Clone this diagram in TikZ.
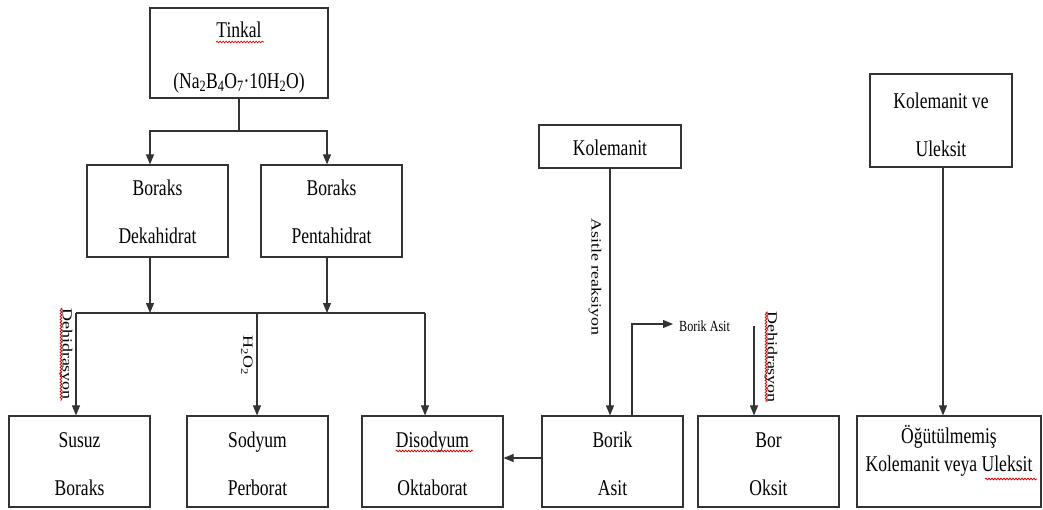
\documentclass[tikz,border=0pt]{standalone}
\usepackage{fontspec}
\setmainfont{Liberation Serif}
\usepackage{graphicx}
\usetikzlibrary{arrows.meta,decorations.pathmorphing}
\newcommand\sqx[1]{\scalebox{0.78}[1]{#1}}
\newcommand\sqy[1]{\scalebox{1}[0.78]{#1}}
\begin{document}
\begin{tikzpicture}[x=1pt,y=-1pt,
  box/.style={draw=black!80, line width=1.2pt, inner sep=0pt},
  conn/.style={draw=black!80, line width=1.1pt},
  arr/.style={conn, -{Triangle[length=10pt,width=8pt]}},
  txt/.style={anchor=base, inner sep=0pt, font=\fontsize{22.5}{26}\selectfont},
  small/.style={anchor=base west, inner sep=0pt, font=\fontsize{15.5}{18}\selectfont},
  vlab/.style={rotate=-90, inner sep=0pt, font=\fontsize{18}{20}\selectfont},
  wavy/.style={draw=red!85!black, line width=0.8pt, decorate, decoration={snake, segment length=3pt, amplitude=0.8pt}}]
\useasboundingbox (0,0) rectangle (1043,509);
\fill[white] (0,0) rectangle (1043,509);
% boxes
\newcommand\mkbox[5]{\node[box, minimum width=#4-#2, minimum height=#5-#3] (#1) at ({(#2+#4)/2},{(#3+#5)/2}) {};}
\mkbox{tinkal}{150}{8}{328}{98}
\mkbox{bdeka}{87}{165}{228}{257}
\mkbox{bpenta}{261}{165}{402}{257}
\mkbox{susuz}{9}{416}{150}{507}
\mkbox{sodyum}{187}{416}{328}{507}
\mkbox{disod}{362}{416}{503}{507}
\mkbox{borik}{542}{416}{683}{507}
\mkbox{boroks}{698}{416}{839}{507}
\mkbox{kolem}{539}{125}{681}{168}
\mkbox{kolul}{870}{74}{1012}{167}
\mkbox{ogut}{857}{416}{1041}{507}
% texts
\node[txt] (t1) at (239,37) {\sqx{Tinkal}};
\node[txt] (t2) at (239,88) {\sqx{(Na\textsubscript{2}B\textsubscript{4}O\textsubscript{7}·10H\textsubscript{2}O)}};
\node[txt] (t3) at (157.5,195) {\sqx{Boraks}};
\node[txt] (t4) at (157.5,243) {\sqx{Dekahidrat}};
\node[txt] (t5) at (331.5,195) {\sqx{Boraks}};
\node[txt] (t6) at (331.5,243) {\sqx{Pentahidrat}};
\node[txt] (t7) at (79.5,447) {\sqx{Susuz}};
\node[txt] (t8) at (79.5,495) {\sqx{Boraks}};
\node[txt] (t9) at (257.5,447) {\sqx{Sodyum}};
\node[txt] (t10) at (257.5,495) {\sqx{Perborat}};
\node[txt] (t11) at (432.5,447) {\sqx{Disodyum}};
\node[txt] (t12) at (432.5,495) {\sqx{Oktaborat}};
\node[txt] (t13) at (612.5,447) {\sqx{Borik}};
\node[txt] (t14) at (612.5,495) {\sqx{Asit}};
\node[txt] (t15) at (768.5,447) {\sqx{Bor}};
\node[txt] (t16) at (768.5,495) {\sqx{Oksit}};
\node[txt] (t17) at (610,155) {\sqx{Kolemanit}};
\node[txt] (t18) at (941,108) {\sqx{Kolemanit ve}};
\node[txt] (t19) at (941,156) {\sqx{Uleksit}};
\node[txt] (t20) at (949,443) {\sqx{Öğütülmemiş}};
\node[txt] (t21) at (949,471) {\sqx{Kolemanit veya Uleksit}};
% spell-check underlines
\draw[wavy] (t1.base west) ++(0,5) -- ++(48,0);
\draw[wavy] (t11.base west) ++(0,4) -- ++(77,0);
\draw[wavy] (985,479) -- (1037,479);
% connectors, Tinkal part
\coordinate (j1) at (239,131);
\draw[conn] (tinkal.south) -- (j1);
\draw[arr] (j1) -| (bdeka.north -| 150,0);
\draw[arr] (j1) -| (bpenta.north -| 327,0);
\coordinate (barL) at (76,313);
\coordinate (barR) at (425,313);
\draw[arr] (bdeka.south -| 150,0) -- (150,313);
\draw[arr] (bpenta.south -| 327,0) -- (327,313);
\draw[conn] (barL) -- (barR);
\draw[arr] (barL) -- (susuz.north -| barL);
\draw[arr] (257,313) -- (sodyum.north -| 257,0);
\draw[arr] (barR) -- (disod.north -| barR);
\node[vlab] (l1) at (66,354) {\sqy{Dehidrasyon}};
\draw[wavy] (61,308) -- (61,401);
\node[vlab] (l2) at (247,355) {\sqy{H\textsubscript{2}O\textsubscript{2}}};
% Kolemanit part
\draw[arr] (kolem.south -| 610,0) -- (borik.north -| 610,0);
\node[vlab] (l3) at (595,277) {\sqy{Asitle reaksiyon}};
\coordinate (ba1) at (632,324);
\coordinate (ba2) at (673,324);
\draw[arr] (borik.north -| ba1) -- (ba1) -- (ba2);
\node[small] (l4) at (679,331) {\sqx{Borik Asit}};
\coordinate (dh) at (754,326);
\draw[arr] (dh) -- (boroks.north -| dh);
\node[vlab] (l5) at (771,357) {\sqy{Dehidrasyon}};
\draw[wavy] (766,312) -- (766,402);
\draw[arr] (borik.west |- 0,458) -- (disod.east |- 0,458);
% Kolemanit ve Uleksit
\draw[arr] (kolul.south -| 943,0) -- (ogut.north -| 943,0);
\end{tikzpicture}
\end{document}
